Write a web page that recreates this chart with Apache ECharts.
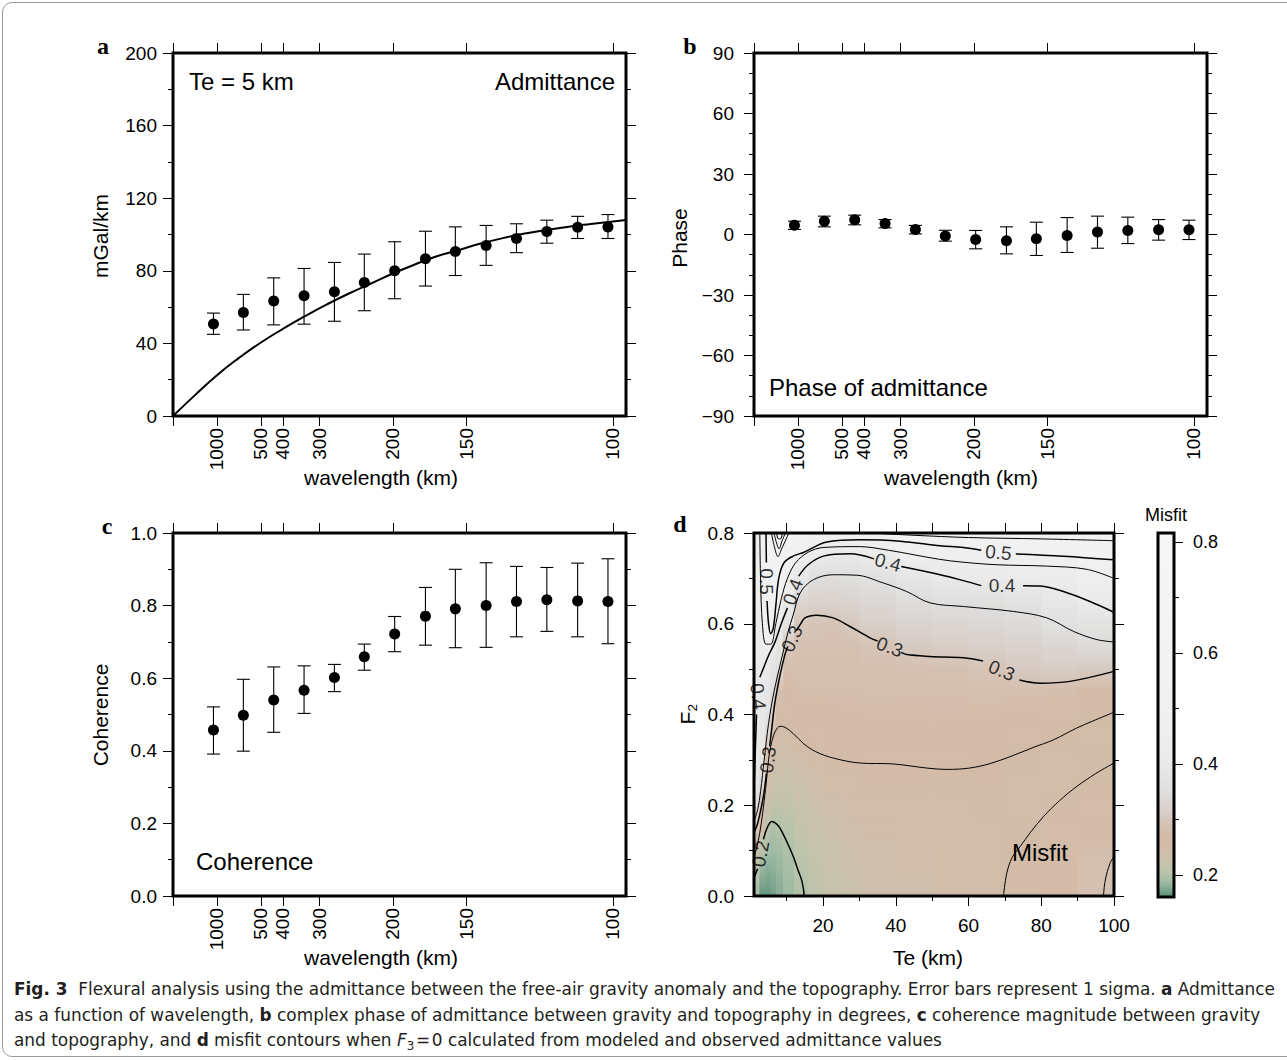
<!DOCTYPE html>
<html><head><meta charset="utf-8">
<script src="https://cdn.jsdelivr.net/npm/echarts@6/dist/echarts.min.js"></script>
<style>
html,body{margin:0;padding:0;background:#fff;}
#chart{position:absolute;left:0;top:0;width:1287px;height:1060px;}
#frame{position:absolute;left:2px;top:2px;width:1320px;height:1055px;border:1px solid #9a9a9a;border-radius:10px;box-sizing:border-box;pointer-events:none;}
#caption{position:absolute;left:14px;top:977px;font-family:'Liberation Sans Narrow','DejaVu Sans Condensed','DejaVu Sans',sans-serif;font-stretch:condensed;font-size:17px;line-height:25.5px;color:#231f20;white-space:nowrap;}
#caption div{display:inline-block;transform-origin:0 0;}
#caption b{font-weight:bold;}
</style></head><body>
<div id="chart"></div>
<div id="frame"></div>
<div id="caption">
<div class="ln"><b>Fig. 3</b>&nbsp; Flexural analysis using the admittance between the free-air gravity anomaly and the topography. Error bars represent 1 sigma. <b>a</b> Admittance</div><br>
<div class="ln">as a function of wavelength, <b>b</b> complex phase of admittance between gravity and topography in degrees, <b>c</b> coherence magnitude between gravity</div><br>
<div class="ln">and topography, and <b>d</b> misfit contours when <i>F</i><sub style="font-size:12px">3</sub>&#8202;=&#8202;0 calculated from modeled and observed admittance values</div>
</div>
<script>
// ---------------- DATA ----------------
// wavenumber of the estimates, in cycles per 1000 km (x = 1000 / wavelength)
const waveNumber = [0.92, 1.60, 2.29, 2.98, 3.67, 4.35, 5.04, 5.74, 6.42, 7.12, 7.81, 8.50, 9.20, 9.89];
const wavelengthTicks = [1000, 500, 400, 300, 200, 150, 100];

// (a) admittance, mGal/km
const admMean = [50.7, 57.0, 63.3, 66.3, 68.5, 73.5, 80.0, 86.6, 90.6, 94.0, 97.8, 101.7, 104.0, 104.2];
const admHigh = [56.7, 67.0, 76.1, 81.3, 84.6, 89.2, 96.0, 101.8, 104.2, 105.0, 105.9, 107.9, 110.0, 111.0];
const admLow  = [45.0, 47.4, 50.2, 50.6, 52.2, 58.0, 64.6, 71.6, 77.4, 83.0, 90.0, 95.2, 97.8, 97.8];
// model curve Te = 5 km
const modelK   = [0, 0.5, 1, 1.5, 2, 2.5, 3, 3.5, 4, 4.5, 5, 5.5, 6, 6.5, 7, 7.5, 8, 8.5, 9, 9.5, 10, 10.3];
const modelAdm = [0, 11.5, 22.5, 32, 40.5, 48, 55, 61.5, 67.5, 73, 78.5, 83.5, 88, 91.5, 95, 98, 100.5, 102.5, 104.3, 105.8, 107.2, 108.0];

// (b) phase, degrees
const phaseMean = [4.6, 6.6, 7.3, 5.4, 2.5, -0.7, -2.5, -3.1, -2.1, -0.5, 1.2, 2.0, 2.3, 2.3];
const phaseHigh = [6.6, 9.1, 9.6, 7.4, 4.5, 2.1, 2.0, 3.8, 6.1, 8.4, 9.1, 8.6, 7.4, 7.1];
const phaseLow  = [2.5, 3.8, 4.8, 3.3, 0.3, -3.3, -7.1, -9.6, -10.4, -8.9, -6.8, -4.5, -2.8, -2.5];

// (c) coherence
const cohMean = [0.457, 0.498, 0.540, 0.567, 0.602, 0.659, 0.722, 0.771, 0.791, 0.800, 0.811, 0.816, 0.813, 0.811];
const cohHigh = [0.521, 0.597, 0.631, 0.634, 0.638, 0.694, 0.770, 0.850, 0.900, 0.918, 0.908, 0.905, 0.917, 0.929];
const cohLow  = [0.391, 0.399, 0.451, 0.503, 0.563, 0.622, 0.673, 0.691, 0.684, 0.685, 0.714, 0.729, 0.714, 0.695];

// (d) misfit: Te column edges, F2 sample levels, values per column (from F2 = 0 up to 0.8)
const teEdges = [1, 2.5, 4, 5.5, 7, 9, 12, 16, 20, 25, 30, 40, 50, 60, 70, 80, 90, 100];
const f2Levels = [0, 0.05, 0.1, 0.15, 0.2, 0.25, 0.3, 0.35, 0.4, 0.45, 0.5, 0.55, 0.6, 0.65, 0.7, 0.75, 0.8];
const misfitCols = [
  [0.19, 0.205, 0.24, 0.30, 0.35, 0.38, 0.39, 0.395, 0.40, 0.405, 0.41, 0.43, 0.44, 0.45, 0.45, 0.46, 0.48],
  [0.165, 0.18, 0.205, 0.25, 0.29, 0.34, 0.37, 0.385, 0.39, 0.40, 0.41, 0.44, 0.46, 0.47, 0.47, 0.48, 0.50],
  [0.165, 0.176, 0.19, 0.205, 0.225, 0.245, 0.28, 0.33, 0.37, 0.38, 0.395, 0.45, 0.50, 0.52, 0.53, 0.55, 0.56],
  [0.17, 0.178, 0.188, 0.196, 0.215, 0.232, 0.24, 0.255, 0.305, 0.35, 0.37, 0.42, 0.50, 0.53, 0.55, 0.58, 0.62],
  [0.178, 0.183, 0.19, 0.20, 0.215, 0.228, 0.238, 0.245, 0.265, 0.28, 0.35, 0.37, 0.41, 0.47, 0.52, 0.60, 0.75],
  [0.187, 0.19, 0.196, 0.205, 0.215, 0.225, 0.235, 0.245, 0.26, 0.27, 0.28, 0.30, 0.37, 0.40, 0.45, 0.52, 0.60],
  [0.199, 0.203, 0.21, 0.218, 0.226, 0.234, 0.243, 0.252, 0.265, 0.275, 0.283, 0.29, 0.30, 0.33, 0.39, 0.48, 0.55],
  [0.212, 0.215, 0.22, 0.227, 0.233, 0.24, 0.247, 0.258, 0.268, 0.276, 0.283, 0.289, 0.296, 0.32, 0.35, 0.42, 0.53],
  [0.222, 0.225, 0.229, 0.234, 0.239, 0.244, 0.25, 0.262, 0.27, 0.277, 0.283, 0.288, 0.295, 0.32, 0.345, 0.40, 0.53],
  [0.23, 0.232, 0.235, 0.239, 0.243, 0.247, 0.253, 0.263, 0.271, 0.278, 0.284, 0.29, 0.302, 0.325, 0.347, 0.395, 0.55],
  [0.236, 0.238, 0.24, 0.243, 0.246, 0.249, 0.255, 0.264, 0.272, 0.279, 0.286, 0.295, 0.315, 0.335, 0.36, 0.41, 0.58],
  [0.24, 0.242, 0.243, 0.245, 0.247, 0.249, 0.256, 0.265, 0.273, 0.28, 0.288, 0.305, 0.325, 0.345, 0.385, 0.45, 0.60],
  [0.243, 0.244, 0.245, 0.246, 0.247, 0.248, 0.256, 0.265, 0.273, 0.281, 0.29, 0.31, 0.33, 0.352, 0.40, 0.46, 0.60],
  [0.246, 0.246, 0.247, 0.247, 0.248, 0.249, 0.252, 0.262, 0.272, 0.282, 0.295, 0.315, 0.335, 0.355, 0.41, 0.47, 0.58],
  [0.255, 0.254, 0.252, 0.248, 0.246, 0.246, 0.248, 0.256, 0.266, 0.28, 0.305, 0.32, 0.34, 0.37, 0.42, 0.48, 0.57],
  [0.262, 0.261, 0.259, 0.256, 0.251, 0.247, 0.246, 0.249, 0.258, 0.275, 0.31, 0.33, 0.36, 0.39, 0.43, 0.50, 0.58],
  [0.29, 0.283, 0.275, 0.267, 0.26, 0.253, 0.248, 0.247, 0.252, 0.27, 0.305, 0.34, 0.37, 0.415, 0.45, 0.52, 0.58]
];

// contour lines [Te, F2]; null = gap left for a label
const contour60 = [[33,0.8],[45,0.795],[60,0.79],[80,0.787],[100,0.783]];
const contourV1 = [[5.8,0.8],[6.6,0.77],[7.6,0.748],[8.6,0.765],[10.6,0.8]];
const contourV2 = [[6.5,0.8],[7.2,0.778],[7.9,0.765],[8.6,0.78],[9.6,0.8]];
const contourV3 = [[7.2,0.8],[7.7,0.787],[8.3,0.787],[8.8,0.8]];
const contour50 = [[4.3,0.8],[4.4,0.735],null,[4.6,0.65],[5.0,0.6],[5.6,0.578],[6.3,0.59],[7,0.64],[7.8,0.70],[9.3,0.735],[12,0.75],[14.6,0.757],[21,0.78],[30.2,0.785],[41.2,0.782],[52.2,0.772],[58.6,0.768],[63.5,0.762],null,[73,0.754],[86.1,0.749],[99.8,0.741]];
const contour45 = [[2.6,0.8],[2.8,0.7],[3.3,0.6],[4.3,0.555],[5.6,0.555],[7,0.6],[8.5,0.655],[10.2,0.70],[12.5,0.735],[16,0.758],[20,0.768],[30,0.77],[38,0.762],[45,0.752],[52,0.742],[58,0.736],[67.8,0.73],[81.5,0.727],[92.5,0.72],[100,0.70]];
const contour40 = [[99.8,0.626],[93.4,0.649],[86.1,0.671],[79.7,0.683],[75,0.684],null,[63.5,0.684],[58.6,0.695],[52.2,0.708],[41.5,0.726],null,[34,0.743],[27.4,0.754],[20.1,0.749],[15.9,0.730],[13.3,0.705],null,[10.2,0.635],[8.5,0.6],[6.8,0.56],[5,0.53],[3.5,0.5],[2.6,0.482],null,[1.7,0.40],[1.4,0.33],[1.15,0.27],[1.0,0.24]];
const contour35 = [[1.0,0.165],[2.0,0.19],[2.8,0.23],[3.8,0.30],[5,0.38],[6.5,0.45],[8.5,0.52],[10.3,0.58],[11.8,0.62],[13.7,0.668],[17.3,0.697],[22.8,0.708],[29.2,0.707],[36.5,0.69],[43,0.671],[49.4,0.646],[58.6,0.638],[72.4,0.627],[81.5,0.613],[88.9,0.583],[95.3,0.565],[100,0.56]];
const contour30 = [[1.0,0.14],[1.8,0.155],[2.6,0.18],[3.6,0.22],[4.4,0.27],null,[5.3,0.33],[5.9,0.37],[6.8,0.429],[8.2,0.488],[9.5,0.532],[10.3,0.55],null,[12.6,0.585],[13.7,0.598],[15,0.613],[18.2,0.619],[22.8,0.613],[27.4,0.594],[32.9,0.569],[35,0.562],null,[41.5,0.537],[43,0.532],[49.4,0.528],[58.6,0.525],[64,0.518],null,[74,0.476],[79.7,0.469],[87.9,0.473],[100,0.495]];
const contour25 = [[1.0,0.085],[2.0,0.115],[3.0,0.16],[3.8,0.21],[4.5,0.26],[5.0,0.3],[5.6,0.33],[6.8,0.362],[8.2,0.374],[9.5,0.372],[11.8,0.358],[14.6,0.336],[18,0.318],[22.8,0.304],[30.2,0.293],[39.3,0.291],[48.5,0.282],[54,0.279],[60.3,0.282],[66,0.292],[71.4,0.307],[78,0.328],[83.3,0.344],[89.7,0.37],[94,0.385],[100,0.405]];
const contour25b = [[69.6,0],[70.5,0.05],[72,0.085],[74.2,0.109],[77,0.14],[80.6,0.175],[85,0.21],[89.7,0.241],[95,0.27],[100,0.293]];
const contour30b = [[97.1,0],[97.6,0.035],[98.9,0.072],[100,0.087]];
const contour20 = [[1.0,0.04],[2.0,0.06],null,[3.6,0.125],[4.5,0.148],[5.9,0.164],[7,0.16],[8.1,0.15],[10,0.12],[11.8,0.087],[13.2,0.055],[14.1,0.035],[14.6,0.015],[14.75,0]];
const contourLabels = [
  {pos:[68.2,0.757], text:'0.5', rot:-5},
  {pos:[37.8,0.735], text:'0.4', rot:-15},
  {pos:[69.2,0.684], text:'0.4', rot:0},
  {pos:[38.3,0.549], text:'0.3', rot:-20},
  {pos:[69.1,0.497], text:'0.3', rot:-22},
  {pos:[4.5,0.693], text:'0.5', rot:-90},
  {pos:[11.7,0.670], text:'0.4', rot:70},
  {pos:[11.45,0.567], text:'0.3', rot:66},
  {pos:[2.15,0.44], text:'0.4', rot:-84},
  {pos:[4.85,0.30], text:'0.3', rot:83},
  {pos:[2.8,0.093], text:'0.2', rot:79}
];

// colour scale of the misfit
const cbMin = 0.16, cbMax = 0.816;
const cbTicks = [0.2, 0.4, 0.6, 0.8];
const cbMinorTicks = [0.3, 0.5, 0.7];
const colorStops = [
  [0.16,'#5a8b75'],[0.17,'#72a088'],[0.18,'#8fb09a'],[0.19,'#a5bda5'],[0.20,'#b3c3aa'],
  [0.21,'#bfc4ac'],[0.225,'#c8c2ab'],[0.24,'#cfbeab'],[0.25,'#d2bca8'],[0.27,'#d4bba8'],
  [0.29,'#d5c1b2'],[0.31,'#d8cdc6'],[0.33,'#dbd6d3'],[0.35,'#dfdfde'],[0.40,'#e9e9e9'],
  [0.45,'#eeeeee'],[0.5,'#f0f0f0'],[0.6,'#f3f3f3'],[0.816,'#f6f6f6']
];

// ---------------- HELPERS ----------------
const FONT = "'Liberation Sans', Arial, Helvetica, sans-serif";
function hex(c){return [parseInt(c.slice(1,3),16),parseInt(c.slice(3,5),16),parseInt(c.slice(5,7),16)];}
function misfitColor(v){
  if (v <= colorStops[0][0]) return colorStops[0][1];
  for (let i=1;i<colorStops.length;i++){
    if (v <= colorStops[i][0]){
      const [v0,c0]=colorStops[i-1],[v1,c1]=colorStops[i];
      const t=(v-v0)/(v1-v0), a=hex(c0), b=hex(c1);
      return 'rgb('+a.map((x,j)=>Math.round(x+(b[j]-x)*t)).join(',')+')';
    }
  }
  return colorStops[colorStops.length-1][1];
}

const grids = [
  {left:173, top:53, width:453, height:363},
  {left:754, top:53, width:453, height:363},
  {left:173, top:533, width:453, height:363},
  {left:754, top:533, width:360, height:363},
  {left:1158, top:533, width:16, height:364}
].map(g => Object.assign({show:false, containLabel:false, outerBoundsMode:'none'}, g));

const xAxis = [], yAxis = [], series = [];
const tickStyle = {color:'#000', width:1};
const noLine = {show:false, onZero:false};
const K_MAX = 10.3;
const kTicks = wavelengthTicks.map(w => 1000 / w);

function yAxisPair(g, min, max, interval, minorSplit, fmt, margin){
  const base = {gridIndex:g, type:'value', min, max, interval, axisLine:noLine, splitLine:{show:false},
    axisTick:{show:true, length:10, lineStyle:tickStyle},
    minorTick:{show:true, splitNumber:minorSplit, length:5, lineStyle:tickStyle}};
  const i = yAxis.length;
  yAxis.push(Object.assign({}, base, {position:'left',
    axisLabel:{show:true, margin, color:'#000', fontSize:19, fontFamily:FONT, formatter:fmt}}));
  yAxis.push(Object.assign({}, base, {position:'right', axisLabel:{show:false}}));
  return i;
}
function waveXAxes(g){
  const i = xAxis.length;
  const base = {gridIndex:g, type:'value', min:0, max:K_MAX, axisLine:noLine, splitLine:{show:false},
    axisTick:{show:true, customValues:[0].concat(kTicks), length:10, lineStyle:tickStyle}};
  xAxis.push(Object.assign({}, base, {position:'bottom',
    axisLabel:{show:true, customValues:kTicks, rotate:90, margin:12, color:'#000', fontSize:19, fontFamily:FONT,
      formatter: v => String(Math.round(1000 / v))}}));
  xAxis.push(Object.assign({}, base, {position:'top', axisLabel:{show:false}}));
  return i;
}
function frameSeries(xi, yi, x, y){
  return {type:'custom', xAxisIndex:xi, yAxisIndex:yi, z:10, silent:true, clip:false,
    data:[[x, y]],
    renderItem(params){
      const cs = params.coordSys;
      return {type:'rect', shape:{x:cs.x, y:cs.y, width:cs.width, height:cs.height},
        style:{fill:null, stroke:'#000', lineWidth:3}};
    }};
}
function errorBars(xi, yi, xs, lo, hi){
  return {type:'custom', xAxisIndex:xi, yAxisIndex:yi, z:3, silent:true,
    data: xs.map((x,i)=>[x, lo[i], hi[i]]),
    encode:{x:0, y:[1,2]},
    renderItem(params, api){
      const x = api.value(0);
      const a = api.coord([x, api.value(1)]), b = api.coord([x, api.value(2)]);
      const w = 6.5, st = {stroke:'#000', lineWidth:1.1};
      return {type:'group', children:[
        {type:'line', shape:{x1:a[0], y1:a[1], x2:b[0], y2:b[1]}, style:st},
        {type:'line', shape:{x1:a[0]-w, y1:a[1], x2:a[0]+w, y2:a[1]}, style:st},
        {type:'line', shape:{x1:b[0]-w, y1:b[1], x2:b[0]+w, y2:b[1]}, style:st}
      ]};
    }};
}
function dots(xi, yi, xs, ys){
  return {type:'scatter', xAxisIndex:xi, yAxisIndex:yi, z:4, symbol:'circle', symbolSize:11, silent:true,
    itemStyle:{color:'#000', opacity:1}, data: xs.map((x,i)=>[x, ys[i]])};
}

// ---------- panel a ----------
const ax = waveXAxes(0);
const ay = yAxisPair(0, 0, 200, 40, 2, v => String(v), 16);
series.push(errorBars(ax, ay, waveNumber, admLow, admHigh));
series.push(dots(ax, ay, waveNumber, admMean));
series.push({type:'line', xAxisIndex:ax, yAxisIndex:ay, z:3, smooth:true, showSymbol:false, silent:true,
  lineStyle:{color:'#000', width:2}, data: modelK.map((k,i)=>[k, modelAdm[i]])});
series.push(frameSeries(ax, ay, 1, 1));

// ---------- panel b ----------
const bx = waveXAxes(1);
const by = yAxisPair(1, -90, 90, 30, 3, v => (v < 0 ? '\u2212' + Math.abs(v) : String(v)), 20);
series.push(errorBars(bx, by, waveNumber, phaseLow, phaseHigh));
series.push(dots(bx, by, waveNumber, phaseMean));
series.push(frameSeries(bx, by, 1, 0));

// ---------- panel c ----------
const cx = waveXAxes(2);
const cy = yAxisPair(2, 0, 1, 0.2, 2, v => v.toFixed(1), 16);
series.push(errorBars(cx, cy, waveNumber, cohLow, cohHigh));
series.push(dots(cx, cy, waveNumber, cohMean));
series.push(frameSeries(cx, cy, 1, 0.5));

// ---------- panel d ----------
const dx = xAxis.length;
xAxis.push({gridIndex:3, type:'value', min:1, max:100, position:'bottom', axisLine:noLine, splitLine:{show:false},
  axisTick:{show:true, customValues:[20,40,60,80,100], length:10, lineStyle:tickStyle},
  axisLabel:{show:true, customValues:[20,40,60,80,100], margin:20, color:'#000', fontSize:19, fontFamily:FONT}});
xAxis.push({gridIndex:3, type:'value', min:1, max:100, position:'bottom', axisLine:noLine, splitLine:{show:false},
  axisTick:{show:true, customValues:[10,30,50,70,90], length:5, lineStyle:tickStyle}, axisLabel:{show:false}});
xAxis.push({gridIndex:3, type:'value', min:1, max:100, position:'top', axisLine:noLine, splitLine:{show:false},
  axisTick:{show:true, customValues:[10,20,30,40,50,60,70,80,90,100], length:10, lineStyle:tickStyle}, axisLabel:{show:false}});
const dy = yAxisPair(3, 0, 0.8, 0.2, 2, v => v.toFixed(1), 20);

// misfit field: one strip per Te column, shaded vertically through its sampled values
series.push({type:'custom', xAxisIndex:dx, yAxisIndex:dy, z:1, clip:true, silent:true,
  data: misfitCols.map((col, c) => [teEdges[c], teEdges[c+1], 0, 0.8, c]),
  encode:{x:[0,1], y:[2,3]},
  renderItem(params, api){
    const p0 = api.coord([api.value(0), api.value(3)]);
    const p1 = api.coord([api.value(1), api.value(2)]);
    const col = misfitCols[api.value(4)];
    const stops = f2Levels.map((f, r) => ({offset: 1 - f / 0.8, color: misfitColor(col[r])})).reverse();
    return {type:'rect', shape:{x:p0[0], y:p0[1], width:p1[0]-p0[0]+0.7, height:p1[1]-p0[1]},
      style:{fill:{type:'linear', x:0, y:0, x2:0, y2:1, colorStops:stops}, stroke:null}};
  }});

function contourSeries(pts, width){
  const segs = []; let cur = [];
  pts.forEach(p => { if (p === null){ if (cur.length) segs.push(cur); cur = []; } else cur.push(p); });
  if (cur.length) segs.push(cur);
  segs.forEach(s => series.push({type:'line', xAxisIndex:dx, yAxisIndex:dy, z:3, smooth:0.35, showSymbol:false,
    silent:true, clip:true, lineStyle:{color:'#000', width}, data:s}));
}
contourSeries(contour60, 1);
contourSeries(contourV1, 1);
contourSeries(contourV2, 1);
contourSeries(contourV3, 1);
contourSeries(contour50, 1.5);
contourSeries(contour45, 1);
contourSeries(contour40, 1.5);
contourSeries(contour35, 1);
contourSeries(contour30, 1.5);
contourSeries(contour25, 1);
contourSeries(contour25b, 1);
contourSeries(contour30b, 1);
contourSeries(contour20, 1.5);
series.push({type:'scatter', xAxisIndex:dx, yAxisIndex:dy, z:5, symbolSize:1, silent:true,
  itemStyle:{color:'rgba(0,0,0,0)'},
  data: contourLabels.map(l => ({value:l.pos, label:{show:true, position:'inside', formatter:l.text, rotate:l.rot,
    color:'#000', fontSize:19, fontFamily:FONT}}))});
series.push(frameSeries(dx, dy, 50, 0.4));

// ---------- colour bar ----------
const ex = xAxis.length;
xAxis.push({gridIndex:4, type:'value', min:0, max:1, show:false, axisLine:noLine});
const ey = yAxis.length;
yAxis.push({gridIndex:4, type:'value', min:cbMin, max:cbMax, position:'right', axisLine:noLine, splitLine:{show:false},
  axisTick:{show:true, customValues:cbTicks, length:9, lineStyle:tickStyle},
  axisLabel:{show:true, customValues:cbTicks, margin:19, color:'#000', fontSize:18, fontFamily:FONT, formatter:v=>v.toFixed(1)}});
yAxis.push({gridIndex:4, type:'value', min:cbMin, max:cbMax, position:'right', axisLine:noLine, splitLine:{show:false},
  axisTick:{show:true, customValues:cbMinorTicks, length:5, lineStyle:tickStyle}, axisLabel:{show:false}});
series.push({type:'custom', xAxisIndex:ex, yAxisIndex:ey, z:2, silent:true,
  data:[[0, 1, cbMin, cbMax]], encode:{x:[0,1], y:[2,3]},
  renderItem(params, api){
    const p0 = api.coord([api.value(0), api.value(3)]);
    const p1 = api.coord([api.value(1), api.value(2)]);
    const span = cbMax - cbMin;
    return {type:'rect', shape:{x:p0[0], y:p0[1], width:p1[0]-p0[0], height:p1[1]-p0[1]},
      style:{fill:{type:'linear', x:0, y:0, x2:0, y2:1,
        colorStops: colorStops.slice().reverse().map(s => ({offset:(cbMax - s[0]) / span, color:s[1]}))}}};
  }});
series.push(frameSeries(ex, ey, 0.5, 0.5));

// ---------- texts ----------
function txt(x, y, text, size, opts){
  return Object.assign({type:'text', x, y, z:20, silent:true,
    style:Object.assign({text, font: size + 'px ' + FONT, fill:'#000', align:'center', verticalAlign:'middle'}, opts && opts.style || {})},
    opts && opts.el || {});
}
const SERIF = "bold 24px 'Liberation Serif', 'DejaVu Serif', serif";
const graphic = [
  txt(103, 46, 'a', 24, {style:{font:SERIF}}),
  txt(690, 46, 'b', 24, {style:{font:SERIF}}),
  txt(107, 526, 'c', 24, {style:{font:SERIF}}),
  txt(680, 524, 'd', 24, {style:{font:SERIF}}),
  txt(189, 81, 'Te = 5 km', 24, {style:{align:'left'}}),
  txt(615, 81, 'Admittance', 24, {style:{align:'right'}}),
  txt(769, 387, 'Phase of admittance', 24, {style:{align:'left'}}),
  txt(196, 861, 'Coherence', 24, {style:{align:'left'}}),
  txt(1040, 852, 'Misfit', 24),
  txt(1166, 515, 'Misfit', 18),
  txt(100, 236, 'mGal/km', 21, {el:{rotation:Math.PI/2}}),
  txt(679, 238, 'Phase', 21, {el:{rotation:Math.PI/2}}),
  txt(100, 715, 'Coherence', 21, {el:{rotation:Math.PI/2}}),
  txt(687, 714, 'F\u2082', 21, {el:{rotation:Math.PI/2}}),
  txt(381, 477, 'wavelength (km)', 21),
  txt(961, 477, 'wavelength (km)', 21),
  txt(381, 957, 'wavelength (km)', 21),
  txt(928, 957, 'Te (km)', 21)
];

const chart = echarts.init(document.getElementById('chart'), null, {renderer:'svg'});
chart.setOption({
  animation:false,
  backgroundColor:'#fff',
  grid: grids, xAxis, yAxis, series, graphic
});

// one horizontal scale for the whole caption, chosen so the first line fills the printed width
const lines = document.querySelectorAll('#caption .ln');
const w0 = lines[0].getBoundingClientRect().width;
const sx = w0 > 0 ? 1261 / w0 : 1;
lines.forEach(el => { el.style.transform = 'scaleX(' + sx + ')'; });
</script>
</body></html>
